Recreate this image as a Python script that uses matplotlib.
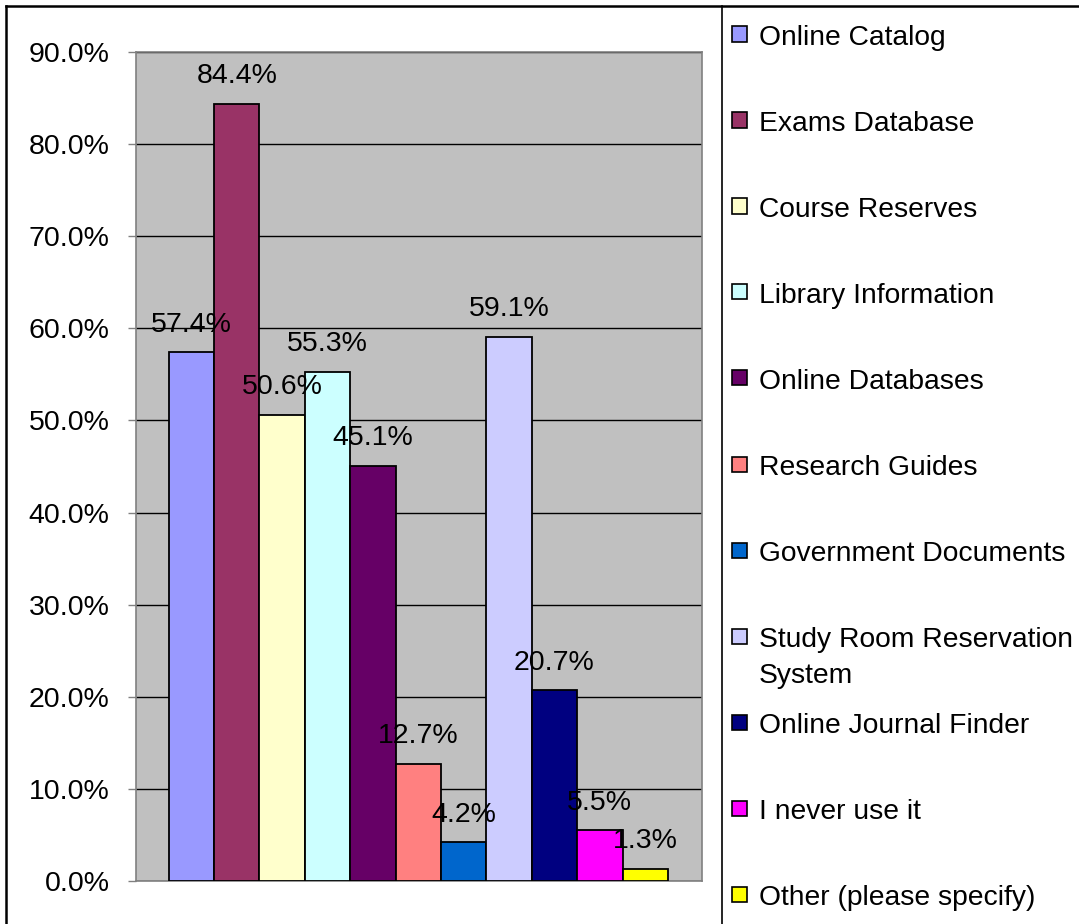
import matplotlib
matplotlib.use("Agg")
import matplotlib.pyplot as plt
from matplotlib.patches import Rectangle
from matplotlib.lines import Line2D
from matplotlib.ticker import FuncFormatter, MultipleLocator

plt.rcParams['font.family'] = ['Liberation Sans', 'DejaVu Sans']

categories = ["Online Catalog", "Exams Database", "Course Reserves", "Library Information",
              "Online Databases", "Research Guides", "Government Documents",
              "Study Room Reservation System", "Online Journal Finder", "I never use it",
              "Other (please specify)"]
values = [57.4, 84.4, 50.6, 55.3, 45.1, 12.7, 4.2, 59.1, 20.7, 5.5, 1.3]
colors = ["#9999FF", "#993366", "#FFFFCC", "#CCFFFF", "#660066", "#FF8080",
          "#0066CC", "#CCCCFF", "#000080", "#FF00FF", "#FFFF00"]
legend_lines = [["Online Catalog"], ["Exams Database"], ["Course Reserves"],
                ["Library Information"], ["Online Databases"], ["Research Guides"],
                ["Government Documents"], ["Study Room Reservation", "System"],
                ["Online Journal Finder"], ["I never use it"], ["Other (please specify)"]]

W, H = 1079, 924
fig = plt.figure(figsize=(W / 100, H / 100), dpi=100)
fig.patch.set_facecolor("white")

ax = fig.add_axes([136 / W, 1 - 881 / H, (702 - 136) / W, (881 - 52) / H])
ax.set_facecolor("#C0C0C0")

xs = list(range(len(values)))
ax.bar(xs, values, width=1.0, color=colors, edgecolor="black", linewidth=1.3, zorder=3)
for x, v in zip(xs, values):
    ax.annotate(f"{v:.1f}%", (x, v), xytext=(0, 20), textcoords="offset points",
                ha="center", va="center", fontsize=20.5, zorder=4)

ax.set_ylim(0, 90)
ax.set_xlim(-0.5 - 0.72, len(values) - 0.5 + 0.75)
ax.yaxis.set_major_locator(MultipleLocator(10))
ax.yaxis.set_major_formatter(FuncFormatter(lambda v, p: f"{v:.1f}%"))
ax.set_xticks([])
ax.tick_params(axis="y", length=6, width=1, color="#808080", pad=13, labelsize=20.5)
ax.grid(axis="y", color="black", linewidth=1, zorder=1)
ax.set_axisbelow(True)
for s in ax.spines.values():
    s.set_color("#808080")
    s.set_linewidth(1.2)

# figure frame and legend divider
def fy(px):
    return 1 - px / H

fig.add_artist(Line2D([6 / W, 6 / W], [0, fy(6)], color="black", lw=1.8))
fig.add_artist(Line2D([6 / W, 1], [fy(6), fy(6)], color="black", lw=1.8))
fig.add_artist(Line2D([722 / W, 722 / W], [0, fy(6)], color="black", lw=1.2))

# legend
for i, (lines, c) in enumerate(zip(legend_lines, colors)):
    yc = 34 + 86 * i
    fig.add_artist(Rectangle((732 / W, fy(yc + 7.5)), 15 / W, 15 / H,
                             facecolor=c, edgecolor="black", linewidth=1.2))
    for j, t in enumerate(lines):
        fig.text(759 / W, fy(45 + 86 * i + 36 * j), t, fontsize=20.3,
                 ha="left", va="baseline")

fig.savefig("out.png", dpi=100)
